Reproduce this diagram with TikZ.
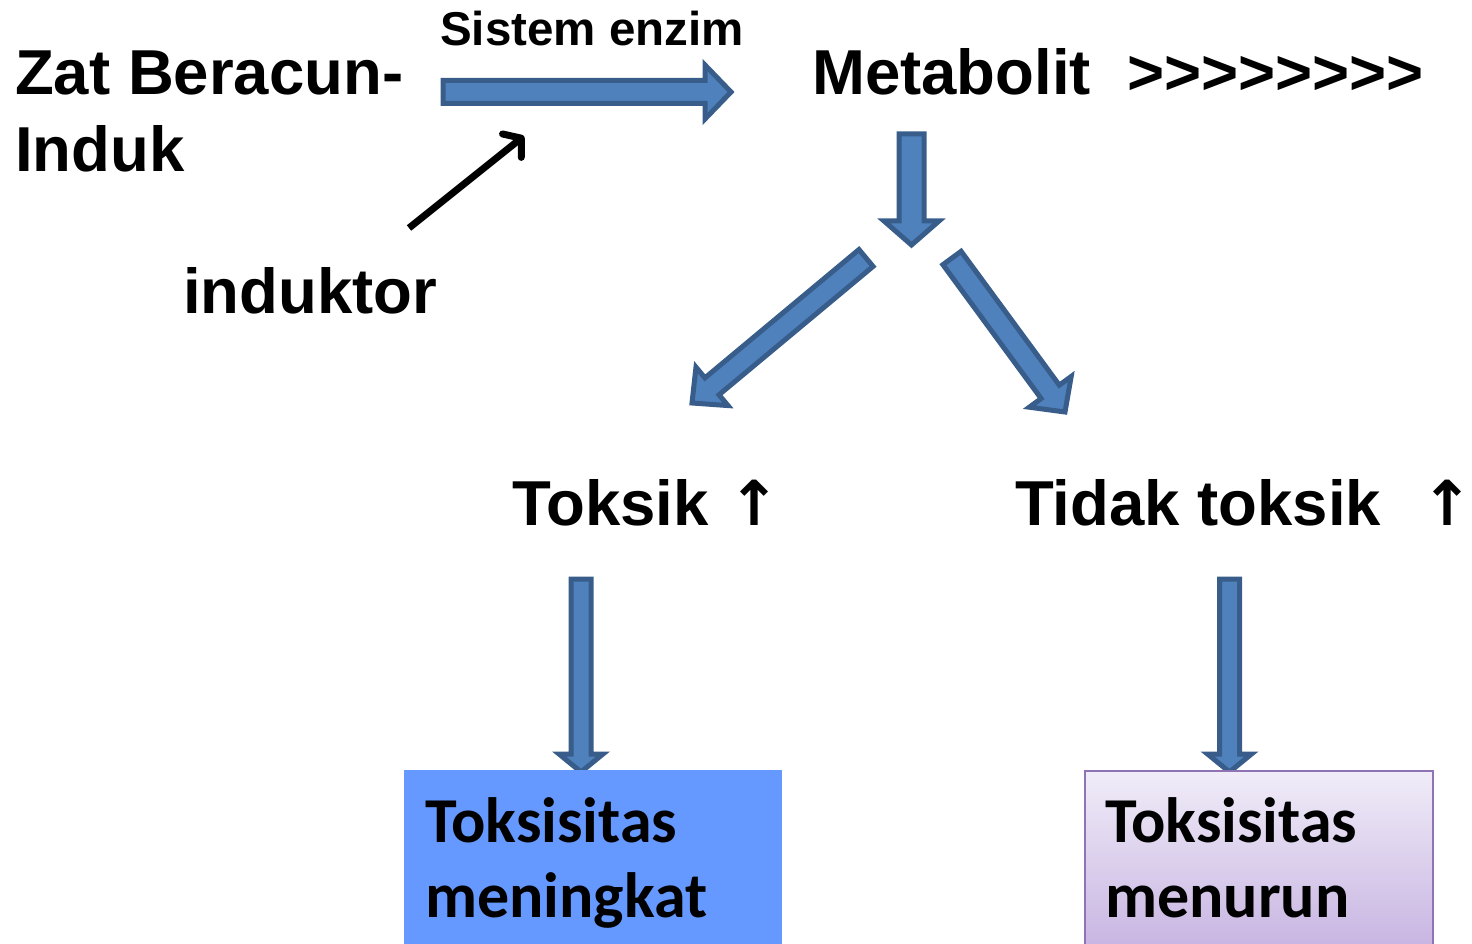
\documentclass[tikz,border=0pt]{standalone}
\usepackage{fontspec}
\setmainfont{Liberation Sans}
\newfontfamily\calibrifont{Carlito}
\newfontfamily\dejavufont{DejaVu Sans}
\usetikzlibrary{calc,arrows.meta}
\definecolor{arrowfill}{HTML}{4F81BD}
\definecolor{arrowline}{HTML}{385D8A}
\definecolor{boxblue}{HTML}{6699FF}
\definecolor{boxpurple}{HTML}{8F73B5}
\definecolor{lavtop}{HTML}{F0ECF8}
\definecolor{lavbot}{HTML}{C8B5E2}
\tikzset{
  blockarr/.style={draw=arrowline, fill=arrowfill, line width=5pt, line join=miter},
  txt/.style={inner sep=0pt, anchor=base west, font=\bfseries\fontsize{63.5}{76}\selectfont},
  uptxt/.style={inner sep=0pt, anchor=base west, font=\dejavufont\bfseries\fontsize{62}{76}\selectfont},
  smalltxt/.style={inner sep=0pt, anchor=base west, font=\bfseries\fontsize{47.5}{56}\selectfont},
  boxtxt/.style={inner sep=0pt, anchor=base west, font=\calibrifont\bfseries\fontsize{64}{76}\selectfont},
}
% #1 start, #2 end, #3 shaft half width, #4 head half width, #5 head length
\newcommand\blockarrow[5]{%
  \coordinate (ba-h) at ($(#2)!#5!(#1)$);
  \draw[blockarr] ($(#1)!#3!90:(#2)$) -- ($(ba-h)!#3!90:(#2)$) -- ($(ba-h)!#4!90:(#2)$)
    -- (#2) -- ($(ba-h)!#4!-90:(#2)$) -- ($(ba-h)!#3!-90:(#2)$) -- ($(#1)!#3!-90:(#2)$) -- cycle;
}
\begin{document}
\begin{tikzpicture}[x=1pt, y=-1pt]
\clip (0,0) rectangle (1472,944);
\useasboundingbox (0,0) rectangle (1472,944);

% texts
\node[txt] (zat) at (15,95) {Zat Beracun-};
\node[txt] (induk) at (15,172) {Induk};
\node[smalltxt] (enzim) at (440,46) {Sistem enzim};
\node[txt] (metab) at (812,95) {Metabolit};
\node[txt] (chev) at (1127,95) {>{}>{}>{}>{}>{}>{}>{}>};
\node[txt] (induktor) at (183,313) {induktor};
\node[txt] (toksik) at (512,525) {Toksik};
\node[uptxt] (up1) at (728,525) {↑};
\node[txt] (tidak) at (1015,525) {Tidak toksik};
\node[uptxt] (up2) at (1421,525) {↑};

% block arrows
\coordinate (a1s) at (443,92);   \coordinate (a1e) at (731,92);
\coordinate (a2s) at (911.5,134); \coordinate (a2e) at (911.5,245);
\coordinate (a3s) at (866,258);  \coordinate (a3e) at (692,403);
\coordinate (a4s) at (952,258);  \coordinate (a4e) at (1065,412);
\coordinate (a5s) at (581,579);  \coordinate (a5e) at (581,772);
\coordinate (a6s) at (1229.5,579); \coordinate (a6e) at (1229.5,772);
\blockarrow{a1s}{a1e}{11.5pt}{27pt}{26pt}
\blockarrow{a2s}{a2e}{12.5pt}{27.5pt}{24pt}
\blockarrow{a3s}{a3e}{11pt}{25pt}{26pt}
\blockarrow{a4s}{a4e}{11.3pt}{26pt}{25pt}
\blockarrow{a5s}{a5e}{10pt}{22pt}{18pt}
\blockarrow{a6s}{a6e}{10pt}{22pt}{18pt}

% inductor arrow
\coordinate (indstart) at (409,228);
\coordinate (indend) at (524,136);
\draw[line width=7pt, -{Straight Barb[length=12pt,width=30pt,line cap=round,line join=round]}] (indstart) -- (indend);

% boxes
\node[fill=boxblue, inner sep=0pt, minimum width=378pt, minimum height=184pt, anchor=north west] (box1) at (404,770) {};
\node[draw=boxpurple, line width=2pt, top color=lavtop, bottom color=lavbot, inner sep=0pt, minimum width=348pt, minimum height=176pt, anchor=north west] (box2) at (1084,770) {};
\node[boxtxt] (b1l1) at (425,842) {Toksisitas};
\node[boxtxt] (b1l2) at (425,917) {meningkat};
\node[boxtxt] (b2l1) at (1105,842) {Toksisitas};
\node[boxtxt] (b2l2) at (1105,917) {menurun};
\end{tikzpicture}
\end{document}
